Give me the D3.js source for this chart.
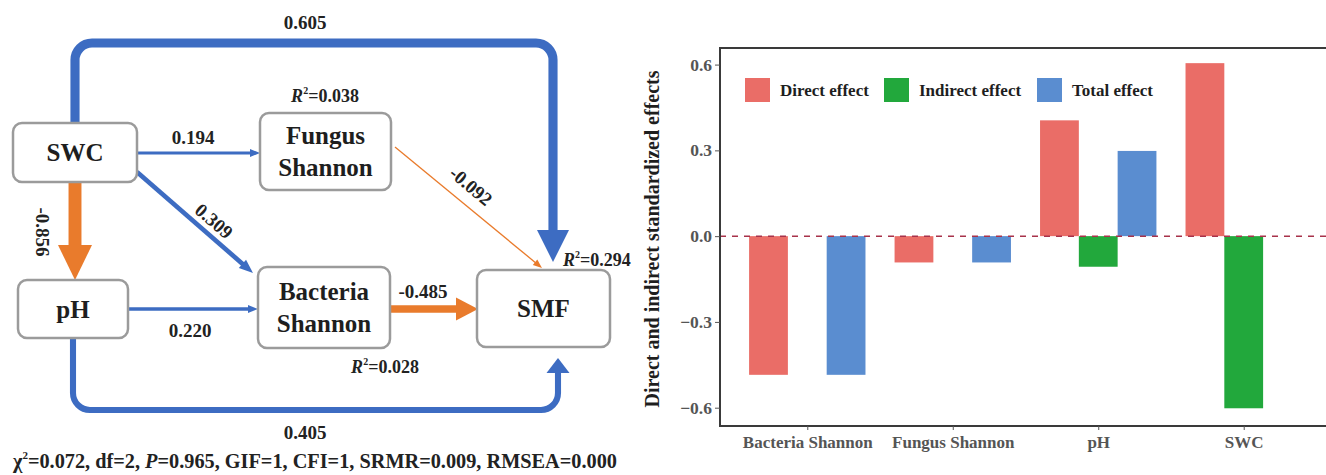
<!DOCTYPE html>
<html><head><meta charset="utf-8">
<script src="https://cdn.jsdelivr.net/npm/d3@7"></script>
<style>
body{margin:0;background:#fff}
svg{display:block}
</style>
</head><body>
<svg id="c" width="1326" height="475"></svg>
<script>
// ---------- bar chart data ----------
const categories = ["Bacteria Shannon", "Fungus Shannon", "pH", "SWC"];
const seriesNames = ["Direct effect", "Indirect effect", "Total effect"];
const directEffect = [-0.485, -0.092, 0.405, 0.605];
const indirectEffect = [0, 0, -0.107, -0.602];
const totalEffect = [-0.485, -0.092, 0.298, 0];
const yTicks = [-0.6, -0.3, 0.0, 0.3, 0.6];

// ---------- SEM path diagram data ----------
const nodeNames = ["SWC", "Fungus Shannon", "Bacteria Shannon", "pH", "SMF"];
const pathFrom = ["SWC", "SWC", "SWC", "SWC", "pH", "pH", "Fungus Shannon", "Bacteria Shannon"];
const pathTo = ["SMF", "Fungus Shannon", "Bacteria Shannon", "pH", "Bacteria Shannon", "SMF", "SMF", "SMF"];
const pathCoef = [0.605, 0.194, 0.309, -0.856, 0.220, 0.405, -0.092, -0.485];
const r2Node = ["Fungus Shannon", "Bacteria Shannon", "SMF"];
const r2Value = ["0.038", "0.028", "0.294"];
const fitStats = "=0.072, df=2, ";
const fitP = "=0.965, GIF=1, CFI=1, SRMR=0.009, RMSEA=0.000";

const SERIF = '"Liberation Serif", Tinos, "Times New Roman", Times, "Noto Serif", "DejaVu Serif", serif';
const svg = d3.select("#c").attr("font-family", SERIF).attr("font-weight", "bold");

// ================= LEFT: SEM diagram =================
const BLUE = "#3d6cc2", ORANGE = "#e97b2c";
const boxes = {
  "SWC": [13, 123, 124, 59],
  "Fungus Shannon": [260, 113, 131, 77],
  "Bacteria Shannon": [258, 267, 132, 81],
  "pH": [18, 280, 110, 58],
  "SMF": [477, 270, 133, 77]
};
const routes = {
  "SWC>SMF": {pts: [[75,123],[75,43],[553,43],[553,262]], r: 17, al: 32, aw: 32, lab: [305,22,0]},
  "SWC>Fungus Shannon": {pts: [[137,153],[260,153]], al: 10, aw: 8, lab: [193,137,0]},
  "SWC>Bacteria Shannon": {pts: [[137,172],[253,273]], al: 14, aw: 11, lab: [214,221,41]},
  "SWC>pH": {pts: [[75,182],[75,280]], al: 35, aw: 34, lab: [42,232,90]},
  "pH>Bacteria Shannon": {pts: [[128,309],[258,309]], al: 10, aw: 8, lab: [190,330,0]},
  "pH>SMF": {pts: [[73,338],[73,410],[558,410],[558,358]], r: 17, al: 15, aw: 23, lab: [305,432,0]},
  "Fungus Shannon>SMF": {pts: [[395,147],[542,268]], al: 9, aw: 7, lab: [471,186,40]},
  "Bacteria Shannon>SMF": {pts: [[390,309],[478,309]], al: 22, aw: 23, lab: [423,291,0]}
};
const widthScale = d3.scaleLinear().domain([0.09, 0.86]).range([1.3, 13]);

const gSem = svg.append("g");
function roundedPath(pts, r) {
  const p = d3.path();
  p.moveTo(pts[0][0], pts[0][1]);
  for (let i = 1; i < pts.length - 1; i++) p.arcTo(pts[i][0], pts[i][1], pts[i+1][0], pts[i+1][1], r || 0);
  p.lineTo(pts[pts.length-1][0], pts[pts.length-1][1]);
  return p.toString();
}
pathCoef.forEach((c, i) => {
  const rt = routes[pathFrom[i] + ">" + pathTo[i]];
  const col = c >= 0 ? BLUE : ORANGE;
  const pts = rt.pts.map(p => p.slice());
  const tip = pts[pts.length-1], prev = pts[pts.length-2];
  const dx = tip[0]-prev[0], dy = tip[1]-prev[1], L = Math.hypot(dx, dy);
  const ux = dx/L, uy = dy/L, nx = -uy, ny = ux;
  const bx = tip[0]-ux*rt.al, by = tip[1]-uy*rt.al;
  pts[pts.length-1] = [bx+ux*1, by+uy*1];
  gSem.append("path").attr("d", roundedPath(pts, rt.r)).attr("fill", "none")
    .attr("stroke", col).attr("stroke-width", widthScale(Math.abs(c)));
  gSem.append("path")
    .attr("d", `M${tip[0]},${tip[1]}L${bx+nx*rt.aw/2},${by+ny*rt.aw/2}L${bx-nx*rt.aw/2},${by-ny*rt.aw/2}Z`)
    .attr("fill", col);
  gSem.append("text").attr("transform", `translate(${rt.lab[0]},${rt.lab[1]}) rotate(${rt.lab[2]})`)
    .attr("text-anchor", "middle").attr("dominant-baseline", "central")
    .attr("font-size", 19).attr("fill", "#222")
    .text(c.toFixed(3));
});

nodeNames.forEach(n => {
  const b = boxes[n];
  gSem.append("rect").attr("x", b[0]).attr("y", b[1]).attr("width", b[2]).attr("height", b[3])
    .attr("rx", 9).attr("fill", "#fff").attr("stroke", "#9b9b9b").attr("stroke-width", 2.5);
  const words = n.split(" ");
  const cx = b[0] + b[2]/2, cy = b[1] + b[3]/2;
  words.forEach((w, k) => {
    gSem.append("text").attr("x", cx).attr("y", cy + (k - (words.length-1)/2) * 32)
      .attr("text-anchor", "middle").attr("dominant-baseline", "central")
      .attr("font-size", 25).attr("fill", "#1e1e1e").text(w);
  });
});

const r2Pos = {"Fungus Shannon": [325, 96, "middle"], "Bacteria Shannon": [385, 367, "middle"], "SMF": [563, 260, "start"]};
r2Node.forEach((n, i) => {
  const p = r2Pos[n];
  const t = gSem.append("text").attr("x", p[0]).attr("y", p[1]).attr("text-anchor", p[2])
    .attr("dominant-baseline", "central").attr("font-size", 18).attr("fill", "#222");
  t.append("tspan").attr("font-style", "italic").text("R");
  t.append("tspan").attr("font-size", 10).attr("dy", -6).text("2");
  t.append("tspan").attr("dy", 6).text("=" + r2Value[i]);
});

const fit = gSem.append("text").attr("x", 13).attr("y", 461).attr("dominant-baseline", "central")
  .attr("font-size", 20.3).attr("fill", "#222");
fit.append("tspan").text("χ");
fit.append("tspan").attr("font-size", 11).attr("dy", -6).text("2");
fit.append("tspan").attr("dy", 6).text(fitStats);
fit.append("tspan").attr("font-style", "italic").text("P");
fit.append("tspan").text(fitP);

// ================= RIGHT: bar chart =================
const plot = {left: 720, right: 1331, top: 48, bottom: 426};
const x = d3.scalePoint().domain(categories).range([plot.left, plot.right]).padding(0.6);
const step = x.step();
const xs = d3.scaleBand().domain(seriesNames).range([-0.4*step, 0.4*step]);
const y = d3.scaleLinear().domain([-0.664, 0.658]).range([plot.bottom, plot.top]);
const colors = d3.scaleOrdinal().domain(seriesNames).range(["#ea6d67", "#22a83c", "#5a8dd0"]);
const seriesValues = [directEffect, indirectEffect, totalEffect];

const gBar = svg.append("g");
categories.forEach((cat, ci) => {
  seriesNames.forEach((s, si) => {
    const v = seriesValues[si][ci];
    if (v === 0) return;
    gBar.append("rect")
      .attr("x", x(cat) + xs(s)).attr("width", xs.bandwidth())
      .attr("y", y(Math.max(0, v))).attr("height", Math.abs(y(v) - y(0)))
      .attr("fill", colors(s));
  });
});
gBar.append("line").attr("x1", plot.left).attr("x2", plot.right).attr("y1", y(0)).attr("y2", y(0))
  .attr("stroke", "#a8324a").attr("stroke-width", 1.5).attr("stroke-dasharray", "6,6");

gBar.append("path").attr("d", `M${plot.right},${plot.top}H${plot.left}V${plot.bottom}H${plot.right}`)
  .attr("fill", "none").attr("stroke", "#3a3a3a").attr("stroke-width", 2);

const yAxis = gBar.append("g").attr("transform", `translate(${plot.left},0)`)
  .call(d3.axisLeft(y).tickValues(yTicks).tickFormat(d3.format(".1f")).tickSize(5).tickPadding(3));
yAxis.attr("font-family", SERIF).attr("font-weight", "bold");
yAxis.select(".domain").remove();
yAxis.selectAll("line").attr("stroke", "#555");
yAxis.selectAll("text").attr("font-size", 17.5).attr("fill", "#555");

const xAxis = gBar.append("g").attr("transform", `translate(0,${plot.bottom})`)
  .call(d3.axisBottom(x).tickSize(4).tickPadding(6));
xAxis.attr("font-family", SERIF).attr("font-weight", "bold");
xAxis.select(".domain").remove();
xAxis.selectAll("line").attr("stroke", "#555");
xAxis.selectAll("text").attr("font-size", 17).attr("fill", "#555");

gBar.append("text").attr("transform", `translate(652,${(plot.top+plot.bottom)/2 + 2}) rotate(-90)`)
  .attr("text-anchor", "middle").attr("dominant-baseline", "central")
  .attr("font-size", 20).attr("fill", "#1e1e1e").text("Direct and indirect standardized effects");

const legX = [745, 884, 1037];
seriesNames.forEach((s, i) => {
  gBar.append("rect").attr("x", legX[i]).attr("y", 78).attr("width", 25).attr("height", 24).attr("fill", colors(s));
  gBar.append("text").attr("x", legX[i] + 35).attr("y", 90).attr("dominant-baseline", "central")
    .attr("font-size", 17).attr("fill", "#1e1e1e").text(s);
});
</script>
</body></html>
